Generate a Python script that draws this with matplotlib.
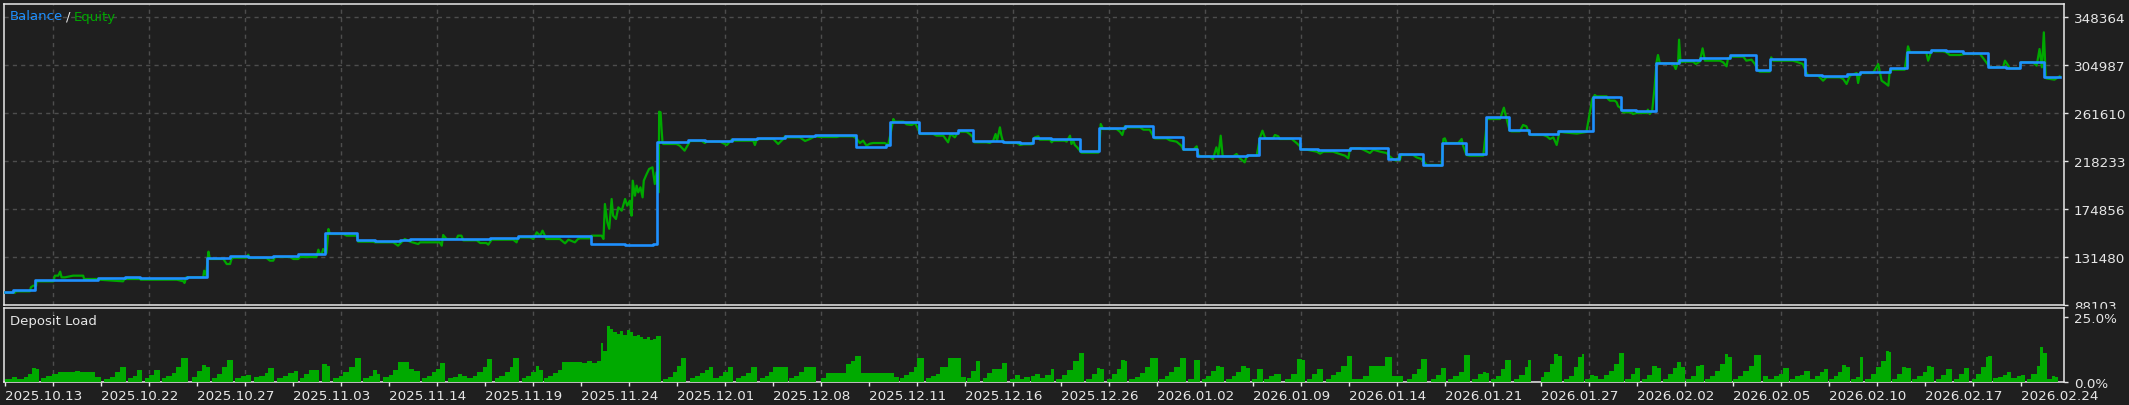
import matplotlib
matplotlib.use("Agg")
import matplotlib.pyplot as plt
import numpy as np

# x axis is the report's sequence axis: grid every 10, date label every 20
date_labels = ["2025.10.13", "2025.10.22", "2025.10.27", "2025.11.03", "2025.11.14", "2025.11.19",
               "2025.11.24", "2025.12.01", "2025.12.08", "2025.12.11", "2025.12.16", "2025.12.26",
               "2026.01.02", "2026.01.09", "2026.01.14", "2026.01.21", "2026.01.27", "2026.02.02",
               "2026.02.05", "2026.02.10", "2026.02.17", "2026.02.24"]
y_ticks = [88103, 131480, 174856, 218233, 261610, 304987, 348364]

# balance (step line)
bal_x = [0, 1.7, 6.3, 19.4, 25, 28.1, 37.9, 42, 46.9, 50.7, 55.9, 61.1, 66.7, 73.4, 77.1, 82.3, 84.4,
         101, 106.9, 122.2, 129.2, 135.1, 135.9, 142.4, 145.8, 151.4, 156.6, 162.5, 168.75, 177.4,
         183.5, 184.4, 190.5, 198.6, 201.7, 208, 211.5, 214.2, 215.6, 218, 224, 228, 233.3, 239.2,
         245.5, 248.3, 258.7, 261.25, 269.8, 273.6, 280.2, 288.2, 290.5, 295.5, 299.4, 304.4, 308.5,
         313.3, 317.6, 323.6, 330.9, 336.7, 339.8, 344, 348.8, 353.1, 359.4, 364.9, 367.7, 375.1,
         378.5, 383.8, 386.5, 392.7, 396.3, 401.2, 404.5, 408, 413.1, 417, 419.9, 424.8, 428.1]
bal_y = [100100, 101700, 110700, 112500, 113400, 112500, 113400, 130600, 132600, 131700, 132600,
         133900, 153200, 147100, 145900, 146700, 147500, 149000, 150200, 143200, 142300, 143200,
         235400, 237200, 236300, 238100, 239000, 240800, 241700, 231200, 232600, 253800, 243500,
         246300, 236300, 235400, 234500, 239000, 239300, 238400, 227300, 248100, 249900, 239600,
         229400, 223000, 223900, 239000, 229400, 228500, 230300, 220300, 224800, 214800, 234500,
         224800, 258000, 246500, 242900, 245300, 275800, 264700, 263500, 307000, 309500, 311300,
         314000, 300700, 310400, 296200, 295300, 297100, 298900, 302500, 317000, 318800, 317300,
         316100, 303100, 302200, 308000, 294100, 294100]

# equity
eq_x = [0, 2.1, 2.2, 5.2, 5.4, 5.9, 6.5, 6.6, 10.1, 10.4, 11.1, 11.5, 11.8, 12.5, 14.2, 16.3, 16.5,
        19.4, 19.6, 24.6, 24.9, 28.1, 28.3, 35.8, 37.2, 37.4, 37.8, 41.3, 41.5, 41.9, 42.4, 42.7,
        45.5, 46.2, 46.9, 47.2, 47.6, 50.3, 50.7, 51, 54.5, 55.2, 55.9, 56.25, 59.4, 60.1, 61.1,
        61.5, 64.9, 65.3, 65.6, 66, 66.3, 67, 67.4, 67.7, 70.5, 71.2, 73.3, 73.6, 76.7, 77.1, 80.9,
        81.9, 83.3, 84.4, 86.1, 86.5, 90.6, 91, 91.3, 92, 94.1, 94.4, 95.1, 95.5, 98.3, 99, 100.3,
        100.7, 101.4, 105.9, 106.6, 106.9,
        107.3, 109.4, 110.1, 110.8, 111.5, 112, 112.5, 112.8, 115.6, 116.7, 117.4, 118.75, 119.4,
        119.8, 121.9, 122.2, 124.3, 124.7, 125, 125.5, 125.9, 126.4, 126.7, 127.3, 127.8, 128.5,
        129.2, 129.65, 130.2, 130.55, 130.8, 131.25, 131.6, 131.95, 132.4, 132.85, 133.1, 133.7,
        134.2, 134.9, 135.4, 135.75, 136.2, 136.3, 136.6, 136.8, 137, 137.15, 139.9, 140.6, 141.6,
        142.4, 142.7, 145.2, 145.8, 146.2, 149, 150.4, 151.4, 151.7, 155.9, 156.25, 156.6, 157.3,
        160.1, 161.1, 162.15, 162.5, 162.85, 165.6, 166.7, 167.7, 168.75, 169.8, 173.3, 173.9,
        176.7, 177.4, 178.1, 178.8, 179.5, 180.2, 180.9, 183.3, 184, 184.5, 185.1, 185.4, 187.2,
        187.85, 188.9, 189.6, 190.3, 190.6, 193.4, 194.1, 195.5, 196.5, 197, 197.9, 198.6, 198.9,
        200.3, 201, 201.7, 202, 204.5, 205.2, 205.9, 206.4, 206.7, 207.3, 207.6, 207.95, 208.7,
        210.8, 211.5, 212.2, 213.9, 214.6, 215.3,
        215.6, 217.7, 218.1, 218.4, 220.8, 221.2, 221.9, 222.2, 222.6, 222.9, 223.4, 223.8, 224.3,
        227.8, 228, 228.3, 228.8, 231.6, 232.3, 232.8, 233.3, 233.7, 236.5, 237.2, 238.5, 239.2,
        239.6, 242, 242.7, 244.1, 245.1, 245.5, 247.6, 248.3, 248.6, 249, 251, 251.7, 252.4, 252.8,
        253.3, 253.7, 253.8, 255.9, 256.6, 257.3, 258.3, 258.7, 259, 260.8, 261.5, 262, 262.5,
        262.85, 264.2, 264.6, 265.3, 265.6, 268.1, 269.1, 269.7, 270.1, 271.2, 272.3, 273.3, 274,
        274.7, 276.7, 278.1, 279.2, 279.9, 280.2, 280.9, 282.3, 283, 284.4, 285.1, 286.5, 287.85,
        288.5, 289.2, 289.8, 290.3, 290.6, 291, 291.3, 293.4, 294.1, 295.1, 296.2, 298.6, 299.3,
        299.7, 300, 300.35, 302.8, 303.5, 303.8, 304.5, 305.2, 308, 308.5, 308.8, 311.5, 312.3,
        312.7, 313.5, 313.9, 315.6, 316.3, 317, 317.6, 318.1, 320.5, 321.25, 321.9, 322.6, 323.3,
        323.9, 325, 327.5, 329.5,
        330.7, 331.25, 331.6, 333.7, 334, 334.4, 335.4, 335.8, 336.1, 336.5, 336.8, 337.2, 338.9,
        339.2, 339.9, 342, 342.3, 342.7, 343.2, 343.7, 344.1, 344.4, 344.8, 347.6, 348.1, 348.6,
        348.8, 349.1, 349.65, 351.7, 352.3, 353.1, 353.7, 354.2, 357.3, 358, 358.7, 359, 359.7,
        362.2, 362.8, 363.9, 364.6, 365.3, 365.6, 367.7, 368, 368.4, 372.5, 373.2, 374.6, 375.3,
        375.7, 377.8, 378.8, 379.5, 382.3, 383, 383.7, 384.4, 385.8, 386.1, 386.5, 389.2, 390.3,
        391, 391.7, 392.4, 392.7, 393.4, 395.8, 396.5, 396.9, 400.3, 400.7, 401.4, 402.1, 403.8,
        404.5, 405.2, 407.3, 408.3, 411.5, 412.2, 413.2, 413.5, 416.3, 416.7, 417.4, 417.7, 419.8,
        420.1, 422.5, 423.3, 423.9, 424.4, 424.8, 425.2, 425.3, 427, 428.1]
eq_y = [99250, 99250, 100450, 100450, 104070, 105570, 105570, 109490, 109490, 114610, 114610,
        118230, 113110, 113110, 114610, 114610, 111600, 111600, 111000, 109500, 111600, 111600,
        111000, 111000, 109490, 107990, 113110, 113110, 119130, 115000, 136300, 129670, 129670,
        125150, 125150, 129670, 130880, 130880, 133590, 130580, 130580, 128170, 128170, 131480,
        131480, 129670, 129670, 131480, 131480, 138110, 134190, 134190, 138710, 135090, 156780,
        152270, 152270, 150760, 150760, 145340, 145340, 144740, 144740, 141720, 147750, 145340,
        143230, 144740, 144740, 141720, 151360, 147750, 147750, 150760, 150760, 146540, 146540,
        144130, 144130, 142630, 147140, 147140, 144740, 149000,
        149250, 149250, 147750, 153770, 150760, 155280, 150760, 147750, 147750, 143830, 147140,
        144740, 147750, 148350, 148350, 150760, 150760, 147750, 179380, 162810, 157000, 183900,
        168830, 165820, 176370, 173350, 183900, 177870, 182390, 168830, 200460, 186910, 195940,
        189920, 194440, 185400, 200460, 206490, 211010, 212520, 197450, 208000, 189920, 262820,
        262220, 247150, 235110, 233600, 233600, 232090, 227580, 233600, 236310, 236310, 234500,
        235710, 235710, 232690, 237510, 236610, 236610, 232690, 237510, 238120, 238120, 233600,
        238120, 240530, 239630, 239630, 236310, 238120, 240530, 239920, 239920, 240530, 240530,
        238720, 234500, 236610, 232090, 233900, 234500, 234500, 232690, 242640, 256190, 253780,
        253780, 251370, 250770, 252580, 247150, 242640, 242640, 241130, 241130, 235110, 242640,
        239630, 244140, 244740, 244740, 242640, 239630, 235110, 235110, 234500, 236610, 242640,
        236610, 248660, 241130, 235710, 234500, 234500, 232690, 233300, 233300, 239660, 240530,
        237510, 237510, 235110, 236610, 236610, 235710, 241130, 233600, 236610, 232690, 230590,
        228480, 225770, 225770, 229080, 251670, 247150, 247150, 244740, 241730, 249570, 248660,
        248660, 246550, 246550, 241130, 238720, 238720, 236910, 235710, 232090, 228480, 228480,
        231490, 224560, 222460, 222460, 220040, 230590, 223060, 241130, 223060, 222460, 222460,
        224560, 220650, 217030, 222460, 223060, 223060, 239630, 245640, 239630, 238720, 238720,
        241730, 240530, 238120, 238120, 234500, 232090, 228480, 228480, 227580, 226670, 224870,
        226670, 226670, 224560, 223060, 220650, 229080, 229680, 229680, 228480, 225470, 228480,
        226670, 225470, 222460, 220040, 218540, 221550, 218540, 224560, 223660, 223660, 221550,
        220040, 214620, 214620, 214020, 238120, 238720, 234500, 234500, 238120, 232090, 223660,
        223060, 223060, 242640, 256190, 256190, 266430, 259200, 245640, 245040, 245040, 250770,
        249570, 242640, 241730, 241730, 240530, 238120, 239630, 232690, 244740, 244000, 243000,
        244500,
        274260, 277880, 276680, 276680, 274260, 272760, 272760, 271260, 267640, 266740, 264630,
        262220, 262220, 260710, 261610, 261610, 264630, 260710, 263720, 284810, 307400, 314030,
        306500, 306500, 301380, 308000, 327880, 307400, 308000, 308000, 305900, 308000, 320050,
        308910, 308910, 307400, 303790, 311020, 312520, 312520, 308910, 309810, 305900, 299870,
        298960, 298960, 311920, 308910, 308910, 308000, 305900, 298360, 295350, 295350, 290830,
        293850, 293850, 292340, 287820, 295350, 297760, 288720, 297760, 297760, 305900, 290830,
        288720, 286310, 299870, 300770, 300770, 321860, 316440, 316440, 308910, 317940, 317340,
        317340, 316440, 314030, 314030, 314930, 314930, 311020, 304990, 302890, 302890, 308910,
        304390, 301980, 301980, 307400, 307400, 304390, 319450, 302890, 334510, 293850, 292940,
        291740, 294750]

# deposit load (%) : runs start, value ; last run ends at load_end
load_x = [0.07, 1.45, 2.55, 3.93, 4.9, 5.73, 6.42, 7.1, 7.53, 8.49, 9.87, 11.12, 14.57, 15.54, 18.7,
          20.1, 20.65, 21.9, 22.86, 23.97, 25.2, 25.6, 26.6, 27.56, 28.5, 29.08, 30.05, 31, 32.26,
          32.67, 33.64, 34.74, 35.71, 36.68, 38.06, 39.03, 40, 40.96, 41.93, 42.76, 43.17, 44.28,
          45.24, 46.21, 47.45, 48, 49.11, 50.22, 51.32, 51.88, 52.98, 54.09, 54.9, 56.02, 56.71,
          57.95, 58.92, 60.16, 61.13, 61.41, 62.37, 63.34, 64.31, 65.41, 66.1, 67.07, 67.76, 68.32,
          69.56, 70.53, 71.77, 72.88, 74.12, 74.53, 75.78, 76.74, 77.57, 78.13, 78.82, 79.92, 80.89,
          81.86, 84.2, 85.31, 86.55, 86.97, 87.93, 88.9, 89.87, 90.7, 91.66, 92.22, 93.32, 94.29,
          95.26, 96.36, 97.47, 98.43, 99.54, 100.37, 101.48, 102.03, 103, 104.1, 105.2, 105.9,
          107.14, 107.7, 108.66, 109.63, 110.6, 111.28, 112.11, 112.25, 113.22, 114.19, 115.15,
          116.12, 120.27, 121.37, 122.34, 123.44, 124.13, 124.69, 125.38, 126.07, 126.76, 127.45,
          128.14, 128.83, 129.52, 130.21, 130.9, 131.6, 132.29, 132.98, 133.67, 134.36, 135.05,
          135.74, 136.7, 137.12, 138.23, 139.19, 140.02, 140.85, 141.96, 142.65, 143.75, 144.86,
          145.82, 146.79, 147.62, 148.73, 149.69, 150.66, 151.77, 152.32, 153.42, 154.39, 155.36,
          156.6, 157.29, 158.26, 159.23, 160.06, 161.02, 163.1, 163.37, 164.48, 165.44, 166.55,
          168.9, 170, 171.1, 175.25, 176.22, 177.19, 178.29, 185.2, 186.3, 186.45, 187.41, 188.38,
          189.35, 190.04, 191.42, 191.97, 192.94, 193.9, 194.87, 196.39, 199.15, 200.26, 200.4,
          201.36, 202.33, 203.16, 203.71, 204.68, 205.65, 206.62, 207.72, 208.69, 209.38, 210.35,
          211.45, 212.4, 213.5, 213.8, 214.7,
          215.63, 216.73, 217.84, 218.67, 218.95, 220.19, 221.3, 222.54, 223.78, 224.89, 225.3,
          226.54, 227.51, 228.2, 228.9, 229.58, 230.69, 231.66, 232.62, 233.31, 233.87, 234.14,
          235.53, 236.49, 237.46, 238.56, 240.22, 240.5, 241.6, 242.57, 243.54, 244.78, 246.16,
          246.58, 247.68, 248.93, 249.48, 250.3, 251.28, 252.24, 253.07, 254.04, 254.45, 255.56,
          256.53, 257.49, 258.6, 259.43, 259.84, 260.81, 262.05, 262.33, 263.3, 264.4, 265.92,
          266.75, 267.99, 269.24, 270.2, 270.76, 271.31, 272.41, 273.38, 274.62, 275.18, 276.28,
          277.25, 278.35, 279.6, 280.56, 283.05, 284.16, 287.61, 289, 291.34, 292.03, 293.14,
          294.24, 295.07, 296.18, 297.14, 298.25, 299.22, 300.19, 300.6, 301.7, 302.95, 303.91,
          305.16, 305.71, 306.82, 307.92, 308.61, 309.3, 309.58, 310.68, 311.65, 312.62, 313.86,
          314.41, 315.52, 316.62, 317.32, 318, 319.94, 320.63, 321.87, 322.84, 323.53, 324.36,
          324.77, 325.88, 326.85, 327.81, 328.5, 329.06, 329.2, 330.16, 330.99, 331.82, 331.96,
          333.2, 334.17, 335.14, 336.24, 337.35, 337.49, 338.73, 339.56, 340.67, 341.08, 342.19,
          343.15, 344.12, 344.95, 345.36, 346.47, 347.44, 348.4, 349.23, 350.06, 350.34, 351.3,
          352.27, 353.1, 353.93, 354.21, 355.31, 356.28, 357.38, 358.35, 359.04, 359.73, 360,
          361.11, 362.22, 363.32, 364.43, 365.95, 366.23, 367.33, 368.58, 369.55, 370.51, 371.76,
          371.9, 373, 373.97, 374.93, 376.04, 376.17, 377.14, 378.11, 379.07, 379.9, 380.04, 381.01,
          381.97, 382.8, 383.49, 384.32, 384.6, 385.7, 386.53, 387.09, 387.5, 388.75, 389.85,
          390.96, 391.92, 392.48, 393.03, 393.17, 394.13, 395.24, 396.07, 397.04, 397.31, 398.42,
          399.52, 400.49, 401.32, 402.01, 402.42, 403.39, 404.5, 405.6, 406.01, 407.12, 408.22,
          409.19, 409.74, 410.71, 411.68, 412.65, 413.2, 414.03, 414.17, 415.27, 416.37, 417.2,
          417.89, 418.03, 419.13, 420.1, 420.93, 421.21, 422.18, 423.28, 423.97, 424.67, 425.36,
          426.46, 427.15]
load_y = [1.15, 2.05, 1.15, 2.05, 3.08, 5.26, 4.87, 0, 1.54, 2.44, 3.08, 3.85, 4.36, 3.85, 2.05,
          0, 1.15, 2.05, 3.72, 5.77, 0, 1.54, 2.44, 4.62, 0, 1.54, 2.82, 4.62, 0,
          1.54, 2.44, 3.33, 5.9, 9.1, 0, 2.05, 4.36, 6.67, 5.64, 0, 1.54, 3.08,
          5.64, 8.46, 0, 1.54, 2.44, 2.82, 0, 1.79, 2.44, 3.33, 5.26, 0, 1.54,
          2.44, 3.33, 4.36, 0, 1.54, 3.08, 4.62, 4.62, 0, 6.92, 6.15, 0, 1.54,
          2.44, 3.72, 5.64, 9.23, 0, 1.54, 2.44, 4.62, 3.08, 0, 1.79, 2.82, 4.62,
          7.56, 5.0, 4.36, 0, 1.54, 2.44, 3.72, 5.0, 7.18, 0, 1.54, 2.05, 3.08,
          2.44, 1.54, 2.44, 3.72, 5.64, 8.85, 0, 1.54, 2.44, 3.72, 5.64, 9.1,
          0, 1.54, 2.44, 3.72, 6.28, 4.74, 0, 1.54, 2.44, 3.33, 4.62,
          7.82, 7.18, 7.95, 7.31, 7.95, 14.87, 12.05, 21.41, 20.38, 19.1, 18.46,
          19.49, 18.2, 20.0, 19.1, 17.82, 18.2, 17.18, 16.54, 17.18, 16.15, 16.54,
          17.69, 0, 1.15, 2.05, 3.72, 6.28, 9.23, 0, 1.54, 2.44, 3.33,
          4.62, 5.9, 1.54, 2.44, 3.72, 5.9, 0, 1.54, 2.44, 3.33, 5.9,
          0, 1.54, 2.44, 3.72, 5.9, 5.64, 0, 1.54, 2.44, 3.72, 5.9,
          0, 1.54, 3.46, 6.92, 8.2, 10.13, 3.46, 1.79, 0, 1.54, 2.82, 3.72,
          5.9, 9.23, 0, 1.54, 2.44, 3.08, 5.64, 9.23, 2.05, 0, 1.54,
          4.36, 7.95, 0, 1.54, 3.33, 5.0, 5.0, 7.18, 0, 1.15, 2.82,
          1.15, 2.05, 0, 2.44, 3.08,
          1.54, 2.82, 5.0, 0, 1.15, 2.82, 4.62, 7.95, 11.15, 0, 1.15,
          3.08, 5.26, 4.87, 0, 1.15, 3.08, 5.0, 8.46, 7.95, 0, 1.15,
          1.79, 3.33, 5.64, 9.23, 0, 1.15, 2.44, 3.72, 5.9, 9.23, 0,
          1.15, 8.46, 0, 1.15, 2.44, 4.36, 6.15, 5.9, 0, 1.15, 2.44,
          3.72, 6.03, 5.26, 0, 1.15, 5.0, 0, 1.15, 2.44, 3.08, 0,
          1.15, 3.08, 8.85, 8.46, 0, 1.15, 3.08, 5.0, 0, 1.15, 2.82,
          3.72, 6.28, 9.87, 1.15, 2.44, 6.15, 9.49, 2.44, 0, 1.15, 3.08,
          5.0, 8.85, 0, 1.15, 2.82, 5.26, 0, 1.15, 2.44, 3.72, 10.38,
          0, 1.15, 3.08, 3.72, 3.33, 0, 1.15, 2.44, 5.0, 8.46, 0,
          1.15, 2.82, 5.64, 8.46, 0, 1.79, 3.97, 6.92, 10.77, 10.13, 0,
          1.15, 2.44, 5.64, 9.49, 10.9, 0, 1.15, 2.69, 2.44, 0, 1.15,
          2.69, 4.36, 6.92, 11.28, 0, 1.15, 3.08, 5.38, 0, 1.15, 2.82,
          6.28, 5.26, 0, 1.15, 3.08, 5.26, 7.56, 5.64, 0, 1.15, 2.44,
          6.28, 6.54, 0, 1.15, 2.44, 4.36, 6.92, 10.77, 9.49, 0, 1.15,
          2.44, 4.36, 6.28, 10.38, 0, 2.44, 1.15, 2.44, 3.08, 5.26, 0,
          1.15, 2.44, 2.82, 4.1, 0, 1.15, 2.44, 3.72, 5.0, 0, 1.15, 2.44,
          3.72, 6.67, 5.9, 0, 1.15, 2.05, 9.49, 0, 1.15, 3.08, 5.9,
          8.2, 12.05, 11.67, 0, 1.15, 3.08, 5.64, 5.38, 0, 1.15, 2.44,
          3.72, 6.28, 5.9, 0, 1.15, 2.82, 5.0, 0, 1.15, 3.08, 5.26,
          0, 1.15, 3.08, 5.64, 9.49, 9.87, 0, 1.54, 2.05, 2.82, 3.72,
          0, 1.54, 2.44, 2.69, 0, 1.15, 3.08, 6.03, 13.33, 11.28, 1.15,
          2.44, 2.05]
load_end = 427.84

bg = "#1f1f1f"
fg = "#e6e6e6"
grid_c = "#4d4d4d"
blue = "#1e90ff"
green = "#00a800"

fig = plt.figure(figsize=(21.29, 4.06), dpi=100, facecolor=bg)
ax = fig.add_axes([4 / 2129, 100 / 406, 2060 / 2129, 301 / 406], facecolor=bg)
ax2 = fig.add_axes([4 / 2129, 23 / 406, 2060 / 2129, 74 / 406], facecolor=bg, sharex=ax)

ax.plot(eq_x, eq_y, color=green, lw=1.6, zorder=3)
ax.plot(bal_x, bal_y, color=blue, lw=1.9, drawstyle="steps-post", zorder=4)

edges = np.array(load_x + [load_end])
ax2.bar(edges[:-1], load_y, width=np.diff(edges), align="edge", color="#00aa00", linewidth=0, zorder=3)

ax.set_xlim(-0.2, 429)
ax.set_ylim(88103, 360120)
ax2.set_ylim(0, 28.5)

for a in (ax, ax2):
    for s in a.spines.values():
        s.set_color("#e8e8e8")
        s.set_linewidth(1.1)
    a.set_xticks(np.arange(0, 430, 10), minor=True)
    a.grid(True, which="minor", axis="x", color=grid_c, linestyle=(0, (3, 3)), lw=1)
    a.yaxis.tick_right()
    a.tick_params(axis="y", colors=fg, labelsize=9.7, length=3, width=1, pad=4, labelcolor=fg)

ax.set_yticks(y_ticks)
ax.set_yticklabels([str(v) for v in y_ticks])
ax.grid(True, which="major", axis="y", color=grid_c, linestyle=(0, (3, 3)), lw=1)
ax.tick_params(axis="x", which="both", bottom=False, labelbottom=False)

ax2.set_yticks([0, 25])
ax2.set_yticklabels(["0.0%", "25.0%"])
ax2.set_xticks(np.arange(0, 430, 20))
ax2.set_xticklabels(date_labels, ha="left")
ax2.tick_params(axis="x", which="major", colors=fg, labelsize=9.7, length=3, width=1, pad=2)
ax2.tick_params(axis="x", which="minor", colors=fg, length=3, width=1)

# the lower panel hides the bottom of the "88103" label, as in the terminal
fig.add_artist(plt.Rectangle((2066 / 2129, 1 - 313 / 406), 63 / 2129, 3.5 / 406,
                             transform=fig.transFigure, color=bg, zorder=5))

fig.text(10 / 2129, 1 - 17 / 406, "Balance", color=blue, fontsize=9.5, ha="left", va="center")
fig.text(66 / 2129, 1 - 17 / 406, "/", color=fg, fontsize=9.5, ha="left", va="center")
fig.text(74 / 2129, 1 - 17 / 406, "Equity", color=green, fontsize=9.5, ha="left", va="center")
fig.text(10 / 2129, 1 - 322 / 406, "Deposit Load", color=fg, fontsize=9.5, ha="left", va="center")

fig.savefig("out.png", dpi=100, facecolor=bg)
